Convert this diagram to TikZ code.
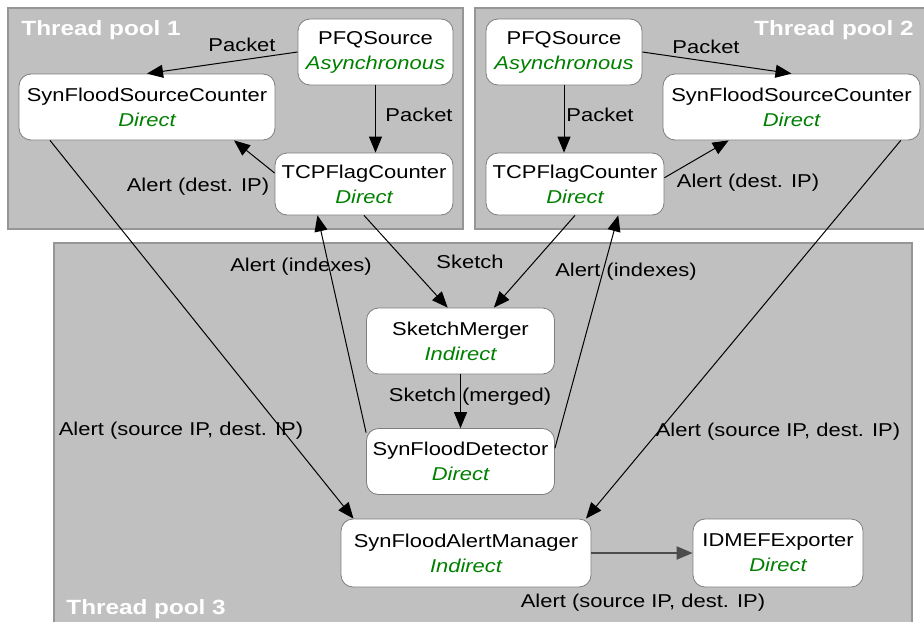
\documentclass[tikz,border=0pt]{standalone}
\usepackage{fontspec}
\setmainfont{Liberation Sans}[FakeStretch=1.18]
\usetikzlibrary{arrows.meta}

\definecolor{poolgray}{RGB}{192,192,192}
\definecolor{poolline}{RGB}{150,150,150}
\definecolor{boxline}{RGB}{125,125,125}
\definecolor{modegreen}{RGB}{0,128,0}
\newcommand{\runmode}[1]{{\color{modegreen}\itshape #1}}

\begin{document}
\begin{tikzpicture}[x=0.5pt, y=-0.5pt]
	% Define styles
	\tikzstyle{pool} = [fill=poolgray, draw=poolline, line width=0.6pt]
	\tikzstyle{pooltitle} = [text=white, font=\fontsize{10.3pt}{12pt}\selectfont\bfseries, inner sep=0pt]
	\tikzstyle{block} = [rectangle, rounded corners=6pt, minimum height=33pt, align=center, draw=boxline, fill=white, font=\fontsize{9.3pt}{12.5pt}\selectfont, inner sep=2pt]
	\tikzstyle{lbl} = [font=\fontsize{9.3pt}{11pt}\selectfont, inner sep=1pt]
	\tikzstyle{arrow} = [line width=0.5pt, -{Triangle[length=8pt,width=6.5pt]}]

	\useasboundingbox (0,0) rectangle (924,621);

	% Thread pools
	\draw[pool] (8,8) rectangle (463,229);
	\draw[pool] (475,8) rectangle (925,229);
	\draw[pool] (54,243) rectangle (912,623);
	\node (pool1) [pooltitle, anchor=base west] at (21,35) {Thread pool 1};
	\node (pool2) [pooltitle, anchor=base east] at (914,35) {Thread pool 2};
	\node (pool3) [pooltitle, anchor=base west] at (66,614) {Thread pool 3};

	% Nodes
	\node (pfq1) [block, minimum width=77.5pt] at (375.5,52) {PFQSource\\\runmode{Asynchronous}};
	\node (sfsc1) [block, minimum width=128pt] at (147,107) {SynFloodSourceCounter\\\runmode{Direct}};
	\node (tcp1) [block, minimum width=89pt, minimum height=31pt] at (364,184) {TCPFlagCounter\\\runmode{Direct}};
	\node (pfq2) [block, minimum width=78pt] at (564,52) {PFQSource\\\runmode{Asynchronous}};
	\node (sfsc2) [block, minimum width=128.5pt] at (791.5,107) {SynFloodSourceCounter\\\runmode{Direct}};
	\node (tcp2) [block, minimum width=89pt, minimum height=31pt] at (575,184) {TCPFlagCounter\\\runmode{Direct}};
	\node (sm) [block, minimum width=94pt] at (460.5,341) {SketchMerger\\\runmode{Indirect}};
	\node (sfd) [block, minimum width=94pt] at (460.5,461.5) {SynFloodDetector\\\runmode{Direct}};
	\node (sam) [block, minimum width=125pt, minimum height=34pt] at (466,553) {SynFloodAlertManager\\\runmode{Indirect}};
	\node (idmef) [block, minimum width=85pt, minimum height=34pt] at (778,553) {IDMEFExporter\\\runmode{Direct}};

	% Arrows
	\draw [arrow] (pfq1.west) -- (sfsc1.north);
	\draw [arrow] (pfq1.south) -- (pfq1.south |- tcp1.north);
	\draw [arrow] (tcp1.173) -- (sfsc1.339);
	\draw [arrow] (pfq2.east) -- (sfsc2.north);
	\draw [arrow] (pfq2.south) -- (pfq2.south |- tcp2.north);
	\draw [arrow] (tcp2.4) -- (sfsc2.208);
	\draw [arrow] (sfsc1.199) -- (sam.163);
	\draw [arrow] (sfsc2.343) -- (sam.16);
	\draw [arrow] (tcp1.south) -- (sm.111);
	\draw [arrow] (tcp2.south) -- (sm.45);
	\draw [arrow] (sfd.163) -- (tcp1.214);
	\draw [arrow] (sfd.8) -- (tcp2.324);
	\draw [arrow] (sm.south) -- (sfd.north);
	\draw [arrow, draw=black!70, line width=1pt] (sam.east) -- (idmef.west);

	% Labels
	\node (lpkt1) [lbl] at (242,45) {Packet};
	\node (lpkt2) [lbl] at (419,115) {Packet};
	\node (ldst1) [lbl] at (198,187) {Alert (dest. IP)};
	\node (lpkt3) [lbl] at (706,47) {Packet};
	\node (lpkt4) [lbl] at (600,115) {Packet};
	\node (ldst2) [lbl] at (748,183) {Alert (dest. IP)};
	\node (lidx1) [lbl] at (301,267) {Alert (indexes)};
	\node (lidx2) [lbl] at (626,272) {Alert (indexes)};
	\node (lsk) [lbl] at (470,262) {Sketch};
	\node (lskm) [lbl] at (470,397) {Sketch (merged)};
	\node (lsrc1) [lbl] at (181,431) {Alert (source IP, dest. IP)};
	\node (lsrc2) [lbl] at (778,432) {Alert (source IP, dest. IP)};
	\node (lsrc3) [lbl] at (643,603) {Alert (source IP, dest. IP)};
\end{tikzpicture}
\end{document}
